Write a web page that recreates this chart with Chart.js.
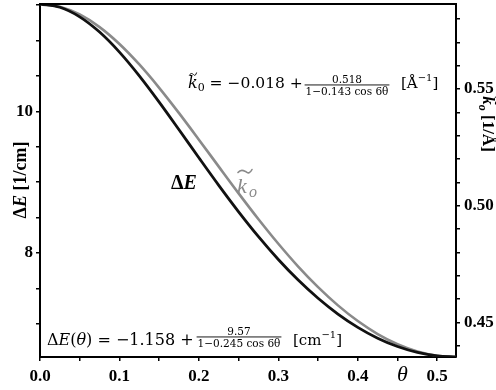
<!DOCTYPE html>
<html><head><meta charset="utf-8">
<script src="https://cdn.jsdelivr.net/npm/chart.js@4.4.1/dist/chart.umd.min.js"></script>
<style>html,body{margin:0;padding:0;background:#fff}#wrap{width:496px;height:390px}</style>
</head><body><div id="wrap"><canvas id="c" width="496" height="390"></canvas></div>
<script>
// theta (rad)
const theta = [0, 0.025, 0.05, 0.075, 0.1, 0.125, 0.15, 0.175, 0.2, 0.225, 0.25, 0.275, 0.3, 0.325, 0.35, 0.375, 0.4, 0.425, 0.45, 0.475, 0.5, 0.5236];
// ΔE [1/cm]
const deltaE = [11.5175, 11.4715, 11.3364, 11.1208, 10.8376, 10.5022, 10.1312, 9.7405, 9.3444, 8.9546, 8.5808, 8.2301, 7.9074, 7.6155, 7.3586, 7.1356, 6.9477, 6.7947, 6.6766, 6.5928, 6.5439, 6.5287];
// k~o [1/Å]
const kTilde = [0.58644, 0.58530, 0.58196, 0.57655, 0.56931, 0.56053, 0.55053, 0.53968, 0.52831, 0.51676, 0.50530, 0.49421, 0.48370, 0.47393, 0.46512, 0.45731, 0.45059, 0.44504, 0.44070, 0.43759, 0.43576, 0.43519];

const xTickValues = [0, 0.05, 0.1, 0.15, 0.2, 0.25, 0.3, 0.35, 0.4, 0.45, 0.5];
const xTickLabels = ['0.0', '', '0.1', '', '0.2', '', '0.3', '', '0.4', '', '0.5'];
const leftTickValues = [7, 7.5, 8, 8.5, 9, 9.5, 10, 10.5, 11, 11.5];
const leftTickLabels = ['', '', '8', '', '', '', '10', '', '', ''];
const rightTickValues = [0.44, 0.45, 0.46, 0.47, 0.48, 0.49, 0.50, 0.51, 0.52, 0.53, 0.54, 0.55, 0.56, 0.57, 0.58];
const rightTickLabels = ['', '0.45', '', '', '', '', '0.50', '', '', '', '', '0.55', '', '', ''];

const SERIF = '"Liberation Serif", "DejaVu Serif", serif';
const MATH = '"DejaVu Serif", serif';
const tickFont = {family: SERIF, size: 17, weight: 'bold'};

function run(ctx, x, y, parts) {
  ctx.textBaseline = 'alphabetic';
  ctx.textAlign = 'left';
  for (const p of parts) {
    ctx.font = p.f;
    ctx.fillStyle = p.c || ctx.fillStyle;
    ctx.fillText(p.t, x, y + (p.dy || 0));
    x += ctx.measureText(p.t).width + (p.sp || 0);
  }
  return x;
}
function width(ctx, parts) {
  let w = 0;
  for (const p of parts) { ctx.font = p.f; w += ctx.measureText(p.t).width + (p.sp || 0); }
  return w;
}
function frac(ctx, cx, yBar, num, den, font) {
  ctx.font = font;
  ctx.fillStyle = '#000';
  ctx.textAlign = 'center';
  ctx.textBaseline = 'alphabetic';
  ctx.fillText(num, cx, yBar - 2.5);
  ctx.fillText(den, cx, yBar + 9.5);
  const w = ctx.measureText(den).width + 2;
  ctx.fillRect(cx - w / 2, yBar - 0.5, w, 0.9);
  ctx.textAlign = 'left';
}
function tilde(ctx, x, y, w, h, lw, color) {
  ctx.save();
  ctx.strokeStyle = color;
  ctx.lineWidth = lw;
  ctx.lineCap = 'round';
  ctx.beginPath();
  ctx.moveTo(x, y + h / 2);
  ctx.bezierCurveTo(x + w * 0.25, y - h, x + w * 0.5, y + h * 0.2, x + w * 0.55, y + h * 0.2);
  ctx.bezierCurveTo(x + w * 0.65, y + h * 0.4, x + w * 0.8, y + h * 1.4, x + w, y - h / 2);
  ctx.stroke();
  ctx.restore();
}
function noPad(s) { s.paddingTop = 0; s.paddingBottom = 0; s.paddingLeft = 0; s.paddingRight = 0; }

const deco = {
  id: 'deco',
  afterDraw(chart) {
    const ctx = chart.ctx, a = chart.chartArea;
    ctx.save();
    // top frame line
    ctx.strokeStyle = '#000';
    ctx.lineWidth = 2;
    ctx.beginPath();
    ctx.moveTo(a.left - 1, a.top);
    ctx.lineTo(a.right + 1, a.top);
    ctx.stroke();

    const F = (s, fam) => s + 'px ' + (fam || SERIF);
    ctx.fillStyle = '#000';
    // formula 1: k~0
    let x = 188, y = 88;
    ctx.font = 'italic ' + F(16, MATH);
    ctx.fillText('k', x, y);
    tilde(ctx, x + 1.5, y - 14, 7, 2.2, 1, '#000');
    x += ctx.measureText('k').width;
    run(ctx, x, y, [{t: '0', f: F(11, MATH), dy: 3}, {t: ' = \u22120.018 +', f: F(15.5, MATH)}]);
    frac(ctx, 347, 85, '0.518', '1\u22120.143 cos 6\u03B8', F(10.5, MATH));
    run(ctx, 401, 88, [{t: '[\u00C5', f: F(15, MATH)}, {t: '\u22121', f: F(10, MATH), dy: -7}, {t: ']', f: F(15, MATH)}]);

    // formula 2: ΔE(θ)
    run(ctx, 47, 345, [{t: '\u0394', f: F(16, MATH)}, {t: 'E', f: 'italic ' + F(16, MATH)}, {t: '(', f: F(16, MATH)}, {t: '\u03B8', f: 'italic ' + F(16, MATH)}, {t: ') = \u22121.158 +', f: F(16, MATH)}]);
    frac(ctx, 239, 337, '9.57', '1\u22120.245 cos 6\u03B8', F(10.5, MATH));
    run(ctx, 293, 345, [{t: '[cm', f: F(15, MATH)}, {t: '\u22121', f: F(10, MATH), dy: -7}, {t: ']', f: F(15, MATH)}]);

    // curve labels
    run(ctx, 171, 189, [{t: '\u0394', f: 'bold ' + F(20)}, {t: 'E', f: 'bold italic ' + F(20)}]);
    ctx.fillStyle = '#8a8a8a';
    ctx.font = 'italic ' + F(22);
    ctx.fillText('k', 237, 193);
    tilde(ctx, 238, 171, 14, 3, 1.6, '#8a8a8a');
    ctx.font = 'italic ' + F(16);
    ctx.fillText('o', 249, 197);

    // x label
    ctx.fillStyle = '#000';
    ctx.font = 'italic ' + F(22);
    ctx.fillText('\u03B8', 397, 381);

    // left title
    ctx.save();
    ctx.translate(20, 180);
    ctx.rotate(-Math.PI / 2);
    const lp = [{t: '\u0394', f: 'bold ' + F(18)}, {t: 'E', f: 'bold italic ' + F(18)}, {t: ' [1/cm]', f: 'bold ' + F(18)}];
    run(ctx, -width(ctx, lp) / 2, 6, lp);
    ctx.restore();

    // right title
    ctx.save();
    ctx.translate(489, 124);
    ctx.rotate(Math.PI / 2);
    const rp = [{t: 'k', f: 'bold italic ' + F(17)}, {t: 'o', f: 'bold italic ' + F(12), dy: 4}, {t: ' [1/\u00C5]', f: 'bold ' + F(17)}];
    const w0 = width(ctx, rp);
    run(ctx, -w0 / 2, 6, rp);
    tilde(ctx, -w0 / 2 + 1, -8, 8, 2.2, 1.4, '#000');
    ctx.restore();

    ctx.restore();
  }
};

const pts = (ys) => theta.map((t, i) => ({x: t, y: ys[i]}));

new Chart(document.getElementById('c'), {
  type: 'line',
  data: {
    datasets: [
      {label: 'ΔE', data: pts(deltaE), yAxisID: 'y', borderColor: '#111', borderWidth: 2.8, pointRadius: 0, cubicInterpolationMode: 'monotone', fill: false},
      {label: 'k~o', data: pts(kTilde), yAxisID: 'y2', borderColor: '#8a8a8a', borderWidth: 2.6, pointRadius: 0, cubicInterpolationMode: 'monotone', fill: false}
    ]
  },
  options: {
    responsive: false,
    animation: false,
    events: [],
    layout: {padding: {top: 4, left: 0, right: 0, bottom: 0}},
    plugins: {legend: {display: false}, tooltip: {enabled: false}},
    scales: {
      x: {
        type: 'linear', position: 'bottom', min: 0, max: 0.5236, bounds: 'data',
        afterBuildTicks: s => { s.ticks = xTickValues.map(v => ({value: v})); },
        afterFit: s => { s.height = 33; noPad(s); },
        ticks: {autoSkip: false, maxRotation: 0, padding: 5, color: '#000', font: tickFont, callback: (v, i) => xTickLabels[i]},
        grid: {drawOnChartArea: false, drawTicks: true, tickLength: 4, color: '#000', lineWidth: 1.5},
        border: {display: true, color: '#000', width: 2}
      },
      y: {
        type: 'linear', position: 'left', min: 6.5287, max: 11.5175, bounds: 'data',
        afterBuildTicks: s => { s.ticks = leftTickValues.map(v => ({value: v})); },
        afterFit: s => { s.width = 40; noPad(s); },
        ticks: {autoSkip: false, padding: 3, color: '#000', font: tickFont, callback: (v, i) => leftTickLabels[i]},
        grid: {drawOnChartArea: false, drawTicks: true, tickLength: 4, color: '#000', lineWidth: 1.5},
        border: {display: true, color: '#000', width: 2}
      },
      y2: {
        type: 'linear', position: 'right', min: 0.43519, max: 0.58644, bounds: 'data',
        afterBuildTicks: s => { s.ticks = rightTickValues.map(v => ({value: v})); },
        afterFit: s => { s.width = 40; noPad(s); },
        ticks: {autoSkip: false, padding: 4, color: '#000', font: tickFont, callback: (v, i) => rightTickLabels[i]},
        grid: {drawOnChartArea: false, drawTicks: true, tickLength: 4, color: '#000', lineWidth: 1.5},
        border: {display: true, color: '#000', width: 2}
      }
    }
  },
  plugins: [deco]
});
</script>
</body></html>
